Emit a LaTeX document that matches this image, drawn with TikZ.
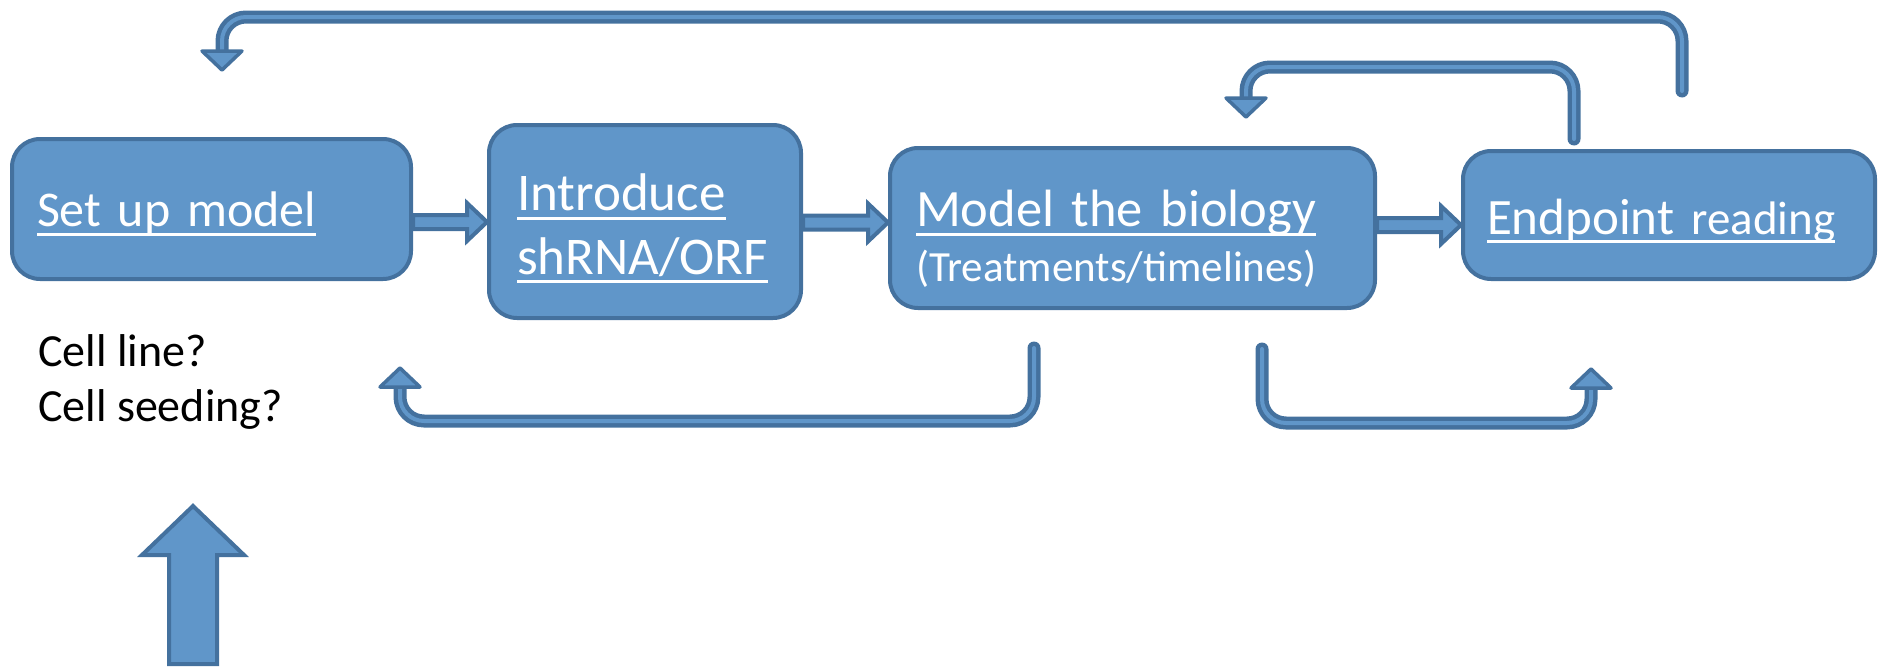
\documentclass[tikz,border=0pt]{standalone}
\usepackage{fontspec}
\setmainfont{Carlito}
\usetikzlibrary{calc}
\definecolor{fillc}{HTML}{6096C9}
\definecolor{bdr}{HTML}{44719E}
\newcommand{\myul}[1]{\leavevmode\setbox0=\hbox{#1}\rlap{\rule[-9pt]{\wd0}{3pt}}\box0}
\begin{document}
\begin{tikzpicture}[x=1pt,y=-1pt,
  box/.style={draw=bdr, fill=fillc, line width=4pt, rounded corners=28pt,
    text=white, align=left, inner ysep=0pt, text height=40pt},
  blockarrow/.style={draw=bdr, fill=fillc, line width=4pt, line join=miter},
  uturn/.style={draw=bdr, double=fillc, double distance=4pt, line width=4.5pt,
    rounded corners=24pt, line cap=round},
  headst/.style={draw=bdr, fill=fillc, line width=3.5pt, line join=round},
  plain/.style={text=black, inner sep=0pt, font=\fontsize{46}{56}\selectfont}]
\useasboundingbox (0,0) rectangle (1879,667);

% boxes
\node[box, minimum width=399pt, minimum height=140pt, inner xsep=25pt, text width=349pt,
  text depth=4.6pt, font=\fontsize{50}{60}\selectfont] (b1) at (211.5,209)
  {\myul{Set up model}};
\node[box, minimum width=312pt, minimum height=193pt, inner xsep=28pt, text width=256pt,
  text depth=61.6pt, font=\fontsize{53}{63.3}\selectfont] (b2) at (645,221.5)
  {\myul{Introduce}\\\myul{shRNA/ORF}};
\node[box, minimum width=485pt, minimum height=160pt, inner xsep=26pt, text width=433pt,
  text depth=42.6pt, font=\fontsize{52.5}{60}\selectfont] (b3) at (1132.5,228)
  {\myul{Model the biology}\\{\fontsize{43}{55}\selectfont (Treatments/timelines)\par}};
\node[box, minimum width=412pt, minimum height=128pt, inner xsep=24pt, text width=364pt,
  text depth=2pt, font=\fontsize{51}{60}\selectfont] (b4) at (1669,215)
  {\myul{Endpoint {\fontsize{47}{54}\selectfont reading}}};

% side text
\node[plain, anchor=base west] (c1) at (38,366) {Cell line?};
\node[plain, anchor=base west] (c2) at (38,421) {Cell seeding?};

% straight block arrows between boxes
\coordinate (a1s) at ($(b1.east)+(0,13)$);
\coordinate (a1e) at (b2.west |- a1s);
\draw[blockarrow] ($(a1s)+(0,-7)$) -- ($(a1e)+(-20,-7)$) -- ($(a1e)+(-20,-19)$) -- (a1e)
  -- ($(a1e)+(-20,19)$) -- ($(a1e)+(-20,7)$) -- ($(a1s)+(0,7)$) -- cycle;
\coordinate (a2s) at ($(b2.east)+(0,1)$);
\coordinate (a2e) at (b3.west |- a2s);
\draw[blockarrow] ($(a2s)+(0,-7)$) -- ($(a2e)+(-20,-7)$) -- ($(a2e)+(-20,-19)$) -- (a2e)
  -- ($(a2e)+(-20,19)$) -- ($(a2e)+(-20,7)$) -- ($(a2s)+(0,7)$) -- cycle;
\coordinate (a3s) at ($(b3.east)+(0,-3)$);
\coordinate (a3e) at (b4.west |- a3s);
\draw[blockarrow] ($(a3s)+(0,-7)$) -- ($(a3e)+(-20,-7)$) -- ($(a3e)+(-20,-19)$) -- (a3e)
  -- ($(a3e)+(-20,19)$) -- ($(a3e)+(-20,7)$) -- ($(a3s)+(0,7)$) -- cycle;

% feedback arrows
\coordinate (t1s) at (1682,91);
\coordinate (t1e) at (222,51);
\draw[uturn] (t1s) -- (1682,17) -- (222,17) -- (t1e);
\draw[headst] ($(t1e)+(-20,0)$) -- ($(t1e)+(0,19)$) -- ($(t1e)+(20,0)$) -- cycle;

\coordinate (t2s) at (1574,139);
\coordinate (t2e) at (1246,98);
\draw[uturn] (t2s) -- (1574,67) -- (1246,67) -- (t2e);
\draw[headst] ($(t2e)+(-20,0)$) -- ($(t2e)+(0,19)$) -- ($(t2e)+(20,0)$) -- cycle;

\coordinate (t3s) at (1034,348);
\coordinate (t3e) at (400,387);
\draw[uturn] (t3s) -- (1034,421) -- (400,421) -- (t3e);
\draw[headst] ($(t3e)+(-20,0)$) -- ($(t3e)+(0,-19)$) -- ($(t3e)+(20,0)$) -- cycle;

\coordinate (t4s) at (1262,349);
\coordinate (t4e) at (1591,388);
\draw[uturn] (t4s) -- (1262,423) -- (1591,423) -- (t4e);
\draw[headst] ($(t4e)+(-20,0)$) -- ($(t4e)+(0,-19)$) -- ($(t4e)+(20,0)$) -- cycle;

% big up arrow
\draw[blockarrow] (169,664) -- (169,555) -- (142,555) -- (193,506) -- (244,555)
  -- (217,555) -- (217,664) -- cycle;
\end{tikzpicture}
\end{document}
